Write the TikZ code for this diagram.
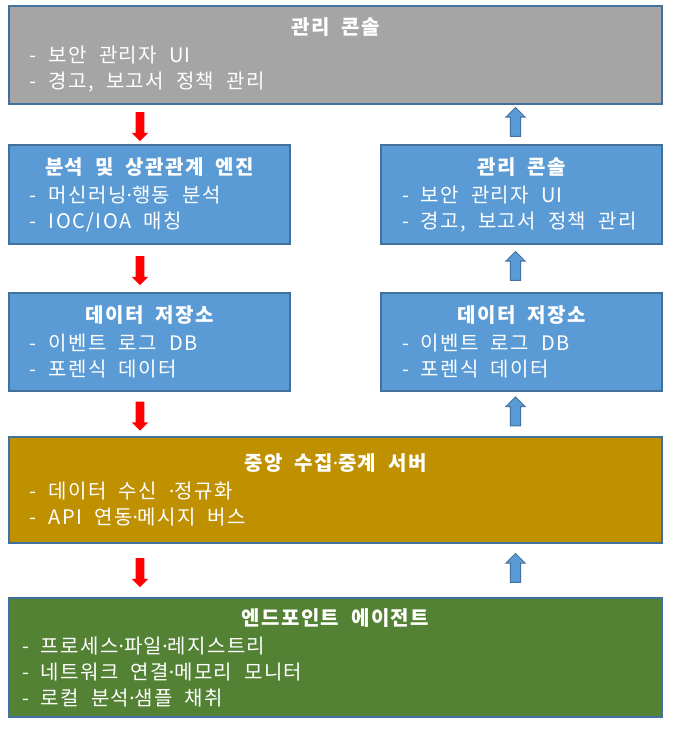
\documentclass[tikz,border=0pt]{standalone}
\usepackage{fontspec}
\setmainfont{Noto Sans CJK KR}[LetterSpace=7]
\newfontfamily\dotfont{Noto Sans}
\usepackage{tikz}
\usetikzlibrary{shapes.arrows, calc}
\definecolor{layerline}{HTML}{41719C}
\definecolor{layergray}{HTML}{A5A5A5}
\definecolor{layerblue}{HTML}{5B9BD5}
\definecolor{layergold}{HTML}{BF9000}
\definecolor{layergreen}{HTML}{548235}
\newcommand{\widespace}{\fontdimen2\font=9pt\spaceskip=9pt plus 1pt minus 1pt\xspaceskip=9pt\relax}
\newcommand{\layerfont}{\fontsize{15}{19.5}\selectfont}
\tikzstyle{layer} = [rectangle, draw=layerline, line width=1.5pt, text=white, align=left, inner ysep=0pt, inner xsep=15.75pt, font=\layerfont]
\tikzstyle{wide} = [layer, text width=458.25pt]
\tikzstyle{narrow} = [layer, text width=179.25pt]
\tikzstyle{downarrow} = [single arrow, rotate=-90, fill=red, draw=none, minimum height=21.75pt, inner xsep=0pt, inner ysep=3pt, single arrow head extend=3pt, single arrow head indent=0pt]
\tikzstyle{uparrow} = [single arrow, rotate=90, fill=layerblue, draw=layerline, line width=0.75pt, minimum height=21.75pt, inner xsep=0pt, inner ysep=3.4pt, single arrow head extend=3.4pt, single arrow head indent=0pt]
\newcommand{\layertitle}[1]{\widespace\makebox[\linewidth]{\bfseries\widespace #1}\\[1.5pt]}
\newcommand{\md}{{\dotfont ·}}

\begin{document}
\begin{tikzpicture}[x=0.75pt, y=-0.75pt]
    \useasboundingbox (0,0) rectangle (678,729);
    \coordinate (leftcol) at (140,0);
    \coordinate (rightcol) at (515.5,0);

    % Top console
    \node[wide, fill=layergray, minimum height=73.5pt] (topconsole) at (335.5,55)
        {\layertitle{관리 콘솔}- 보안 관리자 UI\\- 경고, 보고서 정책 관리};

    % Analysis engine and console
    \node[narrow, fill=layerblue, minimum height=74.25pt] (engine) at (149.5,194.5)
        {\layertitle{분석 및 상관관계 엔진}- 머신러닝\md 행동 분석\\- IOC/IOA 매칭};
    \node[narrow, fill=layerblue, minimum height=74.25pt] (console) at (521.5,194.5)
        {\layertitle{관리 콘솔}- 보안 관리자 UI\\- 경고, 보고서 정책 관리};

    % Data stores
    \node[narrow, fill=layerblue, minimum height=73.5pt] (storeleft) at (149.5,342)
        {\layertitle{데이터 저장소}- 이벤트 로그 DB\\- 포렌식 데이터};
    \node[narrow, fill=layerblue, minimum height=73.5pt] (storeright) at (521.5,342)
        {\layertitle{데이터 저장소}- 이벤트 로그 DB\\- 포렌식 데이터};

    % Central server
    \node[wide, fill=layergold, minimum height=79.5pt] (server) at (335.5,490)
        {\layertitle{중앙 수집\md 중계 서버}- 데이터 수신 \md 정규화\\- API 연동\md 메시지 버스};

    % Endpoint agent
    \node[layer, text width=470.25pt, inner xsep=9.75pt, fill=layergreen, minimum height=89.25pt] (agent) at (335.5,657.5)
        {\layertitle{엔드포인트 에이전트}- 프로세스\md 파일\md 레지스트리\\- 네트워크 연결\md 메모리 모니터\\- 로컬 분석\md 샘플 채취};

    % Arrows down (left)
    \node[downarrow] (down1) at ($(topconsole.south -| leftcol)!.5!(engine.north -| leftcol)$) {};
    \node[downarrow] (down2) at ($(engine.south -| leftcol)!.5!(storeleft.north -| leftcol)$) {};
    \node[downarrow] (down3) at ($(storeleft.south -| leftcol)!.5!(server.north -| leftcol)$) {};
    \node[downarrow] (down4) at ($(server.south -| leftcol)!.5!(agent.north -| leftcol)$) {};

    % Arrows up (right)
    \node[uparrow] (up1) at ($(console.north -| rightcol)!.5!(topconsole.south -| rightcol)$) {};
    \node[uparrow] (up2) at ($(storeright.north -| rightcol)!.5!(console.south -| rightcol)$) {};
    \node[uparrow] (up3) at ($(server.north -| rightcol)!.5!(storeright.south -| rightcol)$) {};
    \node[uparrow] (up4) at ($(agent.north -| rightcol)!.5!(server.south -| rightcol)$) {};
\end{tikzpicture}
\end{document}
